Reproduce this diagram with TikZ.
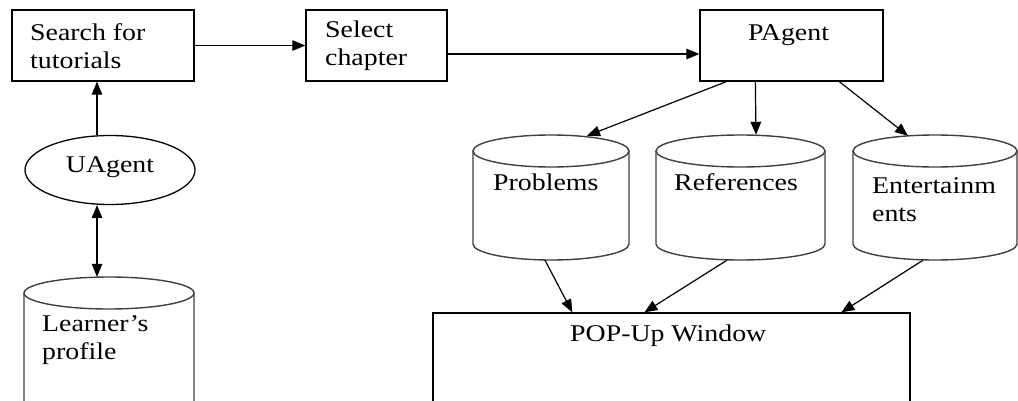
\documentclass[tikz,border=0pt]{standalone}
\usepackage{fontspec}
\setmainfont{Liberation Serif}[FakeStretch=1.16]
\usetikzlibrary{arrows.meta,fit,calc,shapes.geometric}
\tikzset{
  boxnode/.style={draw=black, line width=1.3pt, inner sep=0pt},
  cylline/.style={draw=black!75, line width=1.4pt},
  tipA/.tip={Triangle[length=13pt,width=10.5pt]},
  arr/.style={draw=black, line width=1.2pt, -tipA},
  darr/.style={draw=black, line width=1.2pt, tipA-tipA},
  lbl/.style={inner sep=0pt, align=left, font=\fontsize{24}{28}\selectfont},
}
\newcommand\dbcyl[6]{%
  \node[inner sep=0pt, fit={(#2,#4) (#3,#5)}] (#1) {};
  \pgfmathsetmacro\cylrx{(#3-#2)/2}
  \pgfmathsetmacro\cylcx{(#2+#3)/2}
  \draw[cylline] (\cylcx,#4+#6) ellipse[x radius=\cylrx pt, y radius=#6pt];
  \draw[cylline] (#2,#4+#6) -- (#2,#5-#6) arc[start angle=180, end angle=360, x radius=\cylrx pt, y radius=#6pt] -- (#3,#4+#6);
}
\begin{document}
\begin{tikzpicture}[x=1pt,y=-1pt]
\useasboundingbox[fill=white] (0,0) rectangle (1018,401);
\clip (0,0) rectangle (1018,401);

% boxes
\node[boxnode, minimum width=182pt, minimum height=71pt] (search) at (103,45.5) {};
\node[boxnode, minimum width=141pt, minimum height=71pt] (select) at (376.5,45.5) {};
\node[boxnode, minimum width=183pt, minimum height=71pt] (pag) at (791.5,45.5) {};
\node[boxnode, minimum width=477pt, minimum height=120pt] (pop) at (671.5,373) {};
\node[draw=black, line width=1.3pt, ellipse, minimum width=170pt, minimum height=69pt, inner sep=0pt] (ua) at (110,170) {};

% cylinders
\dbcyl{lp}{24}{194}{277}{418}{16}
\dbcyl{prob}{473}{629}{135}{260}{16}
\dbcyl{ref}{656}{825}{135}{260}{16}
\dbcyl{ent}{853}{1017}{135}{260}{16}

% labels
\node[lbl, anchor=west] (tsearch) at (30,46) {Search for\\tutorials};
\node[lbl, anchor=west] (tselect) at (325,46) {Select\\chapter};
\node[lbl, anchor=base] (tpag) at (788.5,41) {PAgent};
\node[lbl, anchor=base] (tua) at (110,172) {UAgent};
\node[lbl, anchor=west] (tlp) at (42,340) {Learner’s\\profile};
\node[lbl, anchor=base west] (tprob) at (493,191) {Problems};
\node[lbl, anchor=base west] (tref) at (674,191) {References};
\node[lbl, anchor=west] (tent) at (872,200) {Entertainm\\ents};
\node[lbl, anchor=base west] (tpop) at (570,341) {POP-Up Window};

% connectors
\draw[arr] (search) -- (select);
\draw[arr] ([yshift=-8.5pt]select.east) -- ([yshift=-8.5pt]pag.west);
\draw[arr] ([xshift=-13pt]ua.north) -- ([xshift=-6pt]search.south);
\draw[darr] ([xshift=-13pt]ua.south) -- ([xshift=-12pt]lp.north);
\draw[arr] ([xshift=27pt]pag.south west) -- ([xshift=36pt,yshift=-1pt]prob.north);
\draw[arr] ([xshift=56pt]pag.south west) -- ([xshift=15.5pt]ref.north);
\draw[arr] ([xshift=140pt]pag.south west) -- ([xshift=-27pt,yshift=-1pt]ent.north);
\draw[arr] ([xshift=-6pt]prob.south) -- ([xshift=140pt]pop.north west);
\draw[arr] ([xshift=-13.5pt]ref.south) -- ([xshift=212pt]pop.north west);
\draw[arr] ([xshift=-12pt]ent.south) -- ([xshift=409pt]pop.north west);
\end{tikzpicture}
\end{document}
